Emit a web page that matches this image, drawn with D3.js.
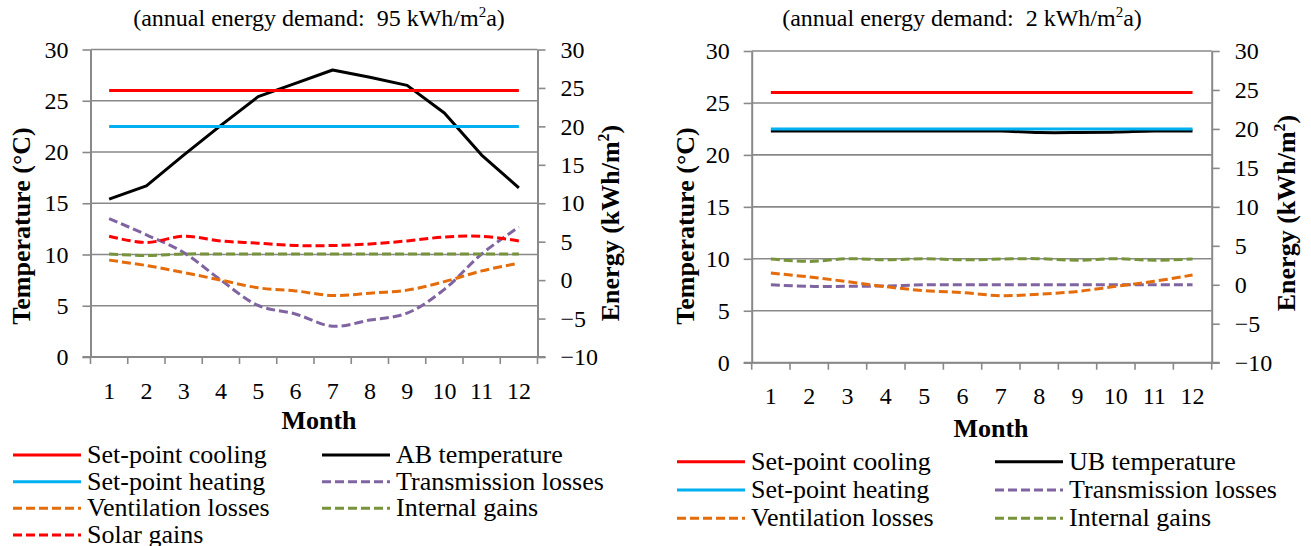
<!DOCTYPE html>
<html>
<head>
<meta charset="utf-8">
<script src="https://cdn.jsdelivr.net/npm/d3@7"></script>
<style>
  body { margin: 0; background: #fff; }
  svg { display: block; }
  text { font-family: "Liberation Serif", "Times New Roman", serif; fill: #000; }
</style>
</head>
<body>
<svg id="chart" width="1311" height="546"></svg>
<script>
// ---- data -------------------------------------------------------------
const months = [1, 2, 3, 4, 5, 6, 7, 8, 9, 10, 11, 12];
const tempTicks = [0, 5, 10, 15, 20, 25, 30];
const energyTicks = [-10, -5, 0, 5, 10, 15, 20, 25, 30];

// Building A (annual energy demand 95 kWh/m²a)
const coolingA      = [26, 26, 26, 26, 26, 26, 26, 26, 26, 26, 26, 26];
const heatingA      = [22.5, 22.5, 22.5, 22.5, 22.5, 22.5, 22.5, 22.5, 22.5, 22.5, 22.5, 22.5];
const tempAB        = [15.4, 16.7, 19.7, 22.6, 25.4, 26.7, 28.0, 27.3, 26.5, 23.8, 19.7, 16.5];
const transmissionA = [8.0, 5.9, 3.6, 0.0, -3.3, -4.4, -6.0, -5.2, -4.3, -1.2, 3.4, 6.9];
const ventilationA  = [2.6, 1.9, 1.0, 0.0, -1.0, -1.4, -2.0, -1.7, -1.3, -0.2, 1.2, 2.2];
const internalA     = [3.4, 3.2, 3.4, 3.4, 3.4, 3.4, 3.4, 3.4, 3.4, 3.4, 3.4, 3.4];
const solarA        = [5.7, 4.9, 5.7, 5.1, 4.8, 4.5, 4.5, 4.7, 5.1, 5.6, 5.7, 5.1];

// Building B (annual energy demand 2 kWh/m²a)
const coolingB      = [26, 26, 26, 26, 26, 26, 26, 26, 26, 26, 26, 26];
const heatingB      = [22.5, 22.5, 22.5, 22.5, 22.5, 22.5, 22.5, 22.5, 22.5, 22.5, 22.5, 22.5];
const tempUB        = [22.3, 22.3, 22.3, 22.3, 22.3, 22.3, 22.3, 22.15, 22.15, 22.2, 22.3, 22.3];
const transmissionB = [0.0, -0.2, -0.2, -0.15, 0.0, 0.0, 0.0, 0.0, 0.0, 0.0, 0.0, 0.0];
const ventilationB  = [1.5, 1.0, 0.4, -0.25, -0.75, -1.0, -1.4, -1.2, -0.85, -0.2, 0.45, 1.25];
const internalB     = [3.3, 3.0, 3.35, 3.2, 3.35, 3.2, 3.3, 3.35, 3.15, 3.35, 3.15, 3.3];

// ---- styling ----------------------------------------------------------
const axisColor = "#898989";
const serif = '"Liberation Serif", "Times New Roman", serif';
const colors = {
  cooling: "#ff0000", heating: "#00b0f0", temp: "#000000",
  transmission: "#8064a2", ventilation: "#e46c0a", internal: "#77933c", solar: "#ff0000"
};
const dash = "9,4";

const svg = d3.select("#chart");

function styleTickText(sel) {
  sel.style("font-family", serif).style("font-size", "24px").attr("fill", "#000");
}

function drawPanel(p) {
  const g = svg.append("g");
  const x = d3.scaleBand().domain(months).range([p.left, p.right]);
  const yT = d3.scaleLinear().domain([0, 30]).range([p.bottom, p.top]);
  const yE = d3.scaleLinear().domain([-10, 30]).range([p.bottom, p.top]);
  const cx = m => x(m) + x.bandwidth() / 2;

  // horizontal gridlines at the temperature ticks
  g.append("g").selectAll("line").data(tempTicks).join("line")
    .attr("x1", p.left).attr("x2", p.right)
    .attr("y1", d => yT(d)).attr("y2", d => yT(d))
    .attr("stroke", axisColor).attr("stroke-width", 1.6);

  // left (temperature) axis
  const la = g.append("g").attr("transform", `translate(${p.left},0)`)
    .call(d3.axisLeft(yT).tickValues(tempTicks).tickSize(8).tickSizeOuter(0).tickPadding(14));
  // right (energy) axis
  const ra = g.append("g").attr("transform", `translate(${p.right},0)`)
    .call(d3.axisRight(yE).tickValues(energyTicks).tickSize(8).tickSizeOuter(0).tickPadding(15));
  [la, ra].forEach(a => {
    a.select(".domain").attr("stroke", axisColor).attr("stroke-width", 2);
    a.selectAll(".tick line").attr("stroke", axisColor).attr("stroke-width", 1.6);
    styleTickText(a.selectAll(".tick text"));
  });

  // month axis: labels centred in bands, ticks on band boundaries
  const ba = g.append("g").attr("transform", `translate(0,${p.bottom})`)
    .call(d3.axisBottom(x).tickSize(0).tickPadding(p.xPad));
  ba.select(".domain").remove();
  styleTickText(ba.selectAll(".tick text"));
  const bounds = months.map(m => x(m)).concat([p.right]);
  g.append("g").selectAll("line").data(bounds).join("line")
    .attr("x1", d => d).attr("x2", d => d)
    .attr("y1", p.bottom).attr("y2", p.bottom + 7)
    .attr("stroke", axisColor).attr("stroke-width", 1.6);
  g.append("line").attr("x1", p.left - 8).attr("x2", p.right + 8)
    .attr("y1", p.bottom).attr("y2", p.bottom)
    .attr("stroke", axisColor).attr("stroke-width", 2);

  // series
  p.series.forEach(s => {
    const y = s.axis === "temp" ? yT : yE;
    const line = d3.line()
      .x((d, i) => cx(months[i]))
      .y(d => y(d))
      .curve(s.smooth ? d3.curveCatmullRom.alpha(0.5) : d3.curveLinear);
    g.append("path").datum(s.values)
      .attr("d", line)
      .attr("fill", "none")
      .attr("stroke", s.color)
      .attr("stroke-width", 3)
      .attr("stroke-linejoin", "round")
      .attr("stroke-dasharray", s.dashed ? dash : null);
  });

  // title with superscript
  const t = g.append("text").attr("x", p.titleX).attr("y", 26)
    .attr("text-anchor", "middle").style("font-size", "24px").style("white-space", "pre");
  t.append("tspan").text(p.titleMain);
  t.append("tspan").style("font-size", "15px").attr("dy", -9).text("2");
  t.append("tspan").attr("dy", 9).text("a)");

  // axis titles
  g.append("text").attr("transform", `translate(${p.tempLabelX},${p.tempLabelY}) rotate(-90)`)
    .attr("text-anchor", "middle").style("font-size", "26px").style("font-weight", "bold")
    .text("Temperature (°C)");
  const el = g.append("text").attr("transform", `translate(${p.energyLabelX},${p.energyLabelY}) rotate(-90)`)
    .attr("text-anchor", "middle").style("font-size", "26px").style("font-weight", "bold");
  el.append("tspan").text("Energy (kWh/m");
  el.append("tspan").style("font-size", "16px").attr("dy", -10).text("2");
  el.append("tspan").attr("dy", 10).text(")");
  g.append("text").attr("x", p.monthX).attr("y", p.monthY)
    .attr("text-anchor", "middle").style("font-size", "26px").style("font-weight", "bold")
    .text("Month");

  // legend: two columns, filled row by row
  p.series.forEach((s, i) => {
    const col = p.legendOrder[i][0], row = p.legendOrder[i][1];
    const lx = p.legendCols[col], ly = p.legendRows[row];
    g.append("line").attr("x1", lx).attr("x2", lx + 68).attr("y1", ly).attr("y2", ly)
      .attr("stroke", s.color).attr("stroke-width", 3)
      .attr("stroke-dasharray", s.dashed ? dash : null);
    g.append("text").attr("x", lx + 74).attr("y", ly).attr("dy", "0.3em")
      .style("font-size", "26px").text(s.name);
  });
}

drawPanel({
  left: 90.5, right: 537.5, top: 49.5, bottom: 357, xPad: 25,
  titleX: 319, titleMain: "(annual energy demand:  95 kWh/m",
  tempLabelX: 30, tempLabelY: 226, energyLabelX: 619, energyLabelY: 223,
  monthX: 319, monthY: 429,
  legendCols: [13, 322], legendRows: [455, 481.7, 508.3, 535],
  legendOrder: [[1, 0], [0, 0], [0, 1], [1, 1], [0, 2], [1, 2], [0, 3]],
  series: [
    { name: "AB temperature", values: tempAB, axis: "temp", color: colors.temp },
    { name: "Set-point cooling", values: coolingA, axis: "temp", color: colors.cooling },
    { name: "Set-point heating", values: heatingA, axis: "temp", color: colors.heating },
    { name: "Transmission losses", values: transmissionA, axis: "energy", color: colors.transmission, dashed: true, smooth: true },
    { name: "Ventilation losses", values: ventilationA, axis: "energy", color: colors.ventilation, dashed: true, smooth: true },
    { name: "Internal gains", values: internalA, axis: "energy", color: colors.internal, dashed: true, smooth: true },
    { name: "Solar gains", values: solarA, axis: "energy", color: colors.solar, dashed: true, smooth: true }
  ]
});

drawPanel({
  left: 751.7, right: 1211.7, top: 51, bottom: 362.7, xPad: 24,
  titleX: 962, titleMain: "(annual energy demand:  2 kWh/m",
  tempLabelX: 694, tempLabelY: 226, energyLabelX: 1295, energyLabelY: 213,
  monthX: 991, monthY: 436.7,
  legendCols: [677, 995], legendRows: [461.7, 490, 518.3],
  legendOrder: [[1, 0], [0, 0], [0, 1], [1, 1], [0, 2], [1, 2]],
  series: [
    { name: "UB temperature", values: tempUB, axis: "temp", color: colors.temp, smooth: true },
    { name: "Set-point cooling", values: coolingB, axis: "temp", color: colors.cooling },
    { name: "Set-point heating", values: heatingB, axis: "temp", color: colors.heating },
    { name: "Transmission losses", values: transmissionB, axis: "energy", color: colors.transmission, dashed: true, smooth: true },
    { name: "Ventilation losses", values: ventilationB, axis: "energy", color: colors.ventilation, dashed: true, smooth: true },
    { name: "Internal gains", values: internalB, axis: "energy", color: colors.internal, dashed: true, smooth: true }
  ]
});
</script>
</body>
</html>
